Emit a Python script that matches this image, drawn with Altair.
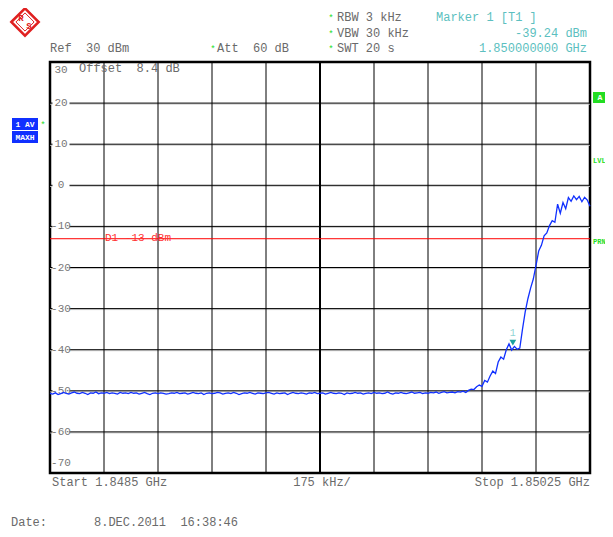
import altair as alt
import pandas as pd

# ---------------- data ----------------
START_GHZ = 1.8485
STOP_GHZ = 1.85025
DIV_GHZ = 0.000175
level_ticks = [30, 20, 10, 0, -10, -20, -30, -40, -50, -60, -70]
limit_dbm = -13
marker_freq = 1.85
marker_level = -39.24

trace_dbm = [
    -50.6, -50.8, -50.5, -50.9, -50.7, -50.4, -50.6, -50.8, -50.5, -50.3,
    -50.6, -50.7, -50.4, -50.6, -50.9, -50.5, -50.6, -50.3, -50.7, -50.5,
    -50.6, -50.4, -50.7, -50.5, -50.6, -50.8, -50.4, -50.6, -50.5, -50.7,
    -50.4, -50.6, -50.5, -50.8, -50.6, -50.4, -50.7, -50.9, -50.6, -50.5,
    -50.7, -50.5, -50.6, -50.8, -50.7, -50.5, -50.6, -50.4, -50.7, -50.6,
    -50.5, -50.8, -50.6, -50.4, -50.6, -50.7, -50.5, -50.9, -50.6, -50.5,
    -50.7, -50.6, -50.4, -50.5, -50.8, -50.6, -50.5, -50.7, -50.4, -50.6,
    -50.9, -50.7, -50.5, -50.6, -50.4, -50.6, -50.8, -50.5, -50.6, -50.7,
    -50.5, -50.4, -50.6, -50.8, -50.5, -50.7, -50.6, -50.5, -50.9, -50.6,
    -50.4, -50.6, -50.7, -50.5, -50.6, -50.8, -50.5, -50.6, -50.4, -50.7,
    -50.6, -50.5, -50.8, -50.6, -50.4, -50.6, -50.7, -50.5, -50.6, -50.9,
    -50.5, -50.7, -50.6, -50.4, -50.6, -50.5, -50.8, -50.6, -50.5, -50.7,
    -50.4, -50.6, -50.5, -50.7, -50.6, -50.3, -50.6, -50.8, -50.5, -50.6,
    -50.4, -50.6, -50.7, -50.5, -50.3, -50.6, -50.5, -50.4, -50.7, -50.5,
    -50.6, -50.4, -50.5, -50.3, -50.6, -50.4, -50.2, -50.5, -50.4, -50.3,
    -50.5, -50.2,
    -50.3, -50.1, -50.4, -49.9, -49.6, -49.7, -49.0, -48.6, -48.9, -47.5,
    -47.9, -46.4, -45.2, -45.8, -43.0, -41.8, -42.3, -40.0, -38.6, -40.1,
    -39.2, -39.9, -39.6, -35.0, -30.8, -27.6, -25.0, -22.8, -19.5, -16.0,
    -14.6, -12.3, -11.6, -9.8, -8.6, -9.0, -4.6, -6.8, -4.2, -5.7,
    -3.0, -3.9, -2.6, -3.5, -2.7, -4.0, -2.9, -3.6, -5.1,
]

n = len(trace_dbm)
trace = pd.DataFrame({
    "freq": [START_GHZ + i * (STOP_GHZ - START_GHZ) / (n - 1) for i in range(n)],
    "level": trace_dbm,
})
vgrid = pd.DataFrame({"freq": [START_GHZ + k * DIV_GHZ for k in range(1, 10) if k != 5]})
vcenter = pd.DataFrame({"freq": [START_GHZ + 5 * DIV_GHZ]})
hgrid = pd.DataFrame({"db": level_ticks[1:-1]})
mid_labels = pd.DataFrame({"db": level_ticks[1:-1], "t": [str(v) for v in level_ticks[1:-1]]})
top_label = pd.DataFrame({"db": [level_ticks[0]], "t": [str(level_ticks[0])]})
bot_label = pd.DataFrame({"db": [level_ticks[-1]], "t": [str(level_ticks[-1])]})
limit = pd.DataFrame({"db": [limit_dbm], "t": ["D1 %d dBm" % limit_dbm]})
marker = pd.DataFrame({"freq": [marker_freq], "level": [marker_level]})

# ---------------- styling ----------------
MONO = "Liberation Mono"
GRAY = "#6a6a6a"
TEAL = "#5cbfc0"
GREEN = "#22dd22"
BLUE = "#1030ff"

xs = alt.Scale(domain=[START_GHZ, STOP_GHZ], nice=False, zero=False)
ys = alt.Scale(domain=[-70, 30], nice=False, zero=False)
X = alt.X("freq:Q", scale=xs, axis=None)
one = pd.DataFrame({"_": [0]})


def txt(s, x, y, color=GRAY, align="left", size=12, weight="normal", baseline="middle"):
    return alt.Chart(one).mark_text(
        text=s, font=MONO, fontSize=size, color=color, align=align,
        baseline=baseline, fontWeight=weight,
    ).encode(x=alt.value(x), y=alt.value(y))


def box(x1, x2, y1, y2, color):
    return alt.Chart(one).mark_rect(color=color).encode(
        x=alt.value(x1), x2=alt.value(x2), y=alt.value(y1), y2=alt.value(y2))


layers = []
layers.append(alt.Chart(hgrid).mark_rule(color="#c8c8c8", strokeWidth=1, yOffset=1).encode(
    y=alt.Y("db:Q", scale=ys, axis=None)))
layers.append(alt.Chart(vgrid).mark_rule(color="black", strokeWidth=1).encode(x=X))
layers.append(alt.Chart(vcenter).mark_rule(color="black", strokeWidth=2).encode(x=X))
layers.append(alt.Chart(hgrid).mark_rule(color="black", strokeWidth=1).encode(
    y=alt.Y("db:Q", scale=ys, axis=None)))
layers.append(alt.Chart(hgrid).mark_tick(orient="horizontal", color="white", size=17,
                                         thickness=9, opacity=1).encode(
    x=alt.value(11), y=alt.Y("db:Q", scale=ys, axis=None)))
layers.append(alt.Chart(mid_labels).mark_text(font=MONO, fontSize=11, color="#777",
                                              align="center", baseline="middle").encode(
    x=alt.value(11), y=alt.Y("db:Q", scale=ys, axis=None), text="t:N"))
layers.append(alt.Chart(top_label).mark_text(font=MONO, fontSize=11, color="#777",
                                             align="center", baseline="top", dy=2).encode(
    x=alt.value(11), y=alt.Y("db:Q", scale=ys, axis=None), text="t:N"))
layers.append(alt.Chart(bot_label).mark_text(font=MONO, fontSize=11, color="#777",
                                             align="center", baseline="bottom", dy=-5).encode(
    x=alt.value(11), y=alt.Y("db:Q", scale=ys, axis=None), text="t:N"))
layers.append(alt.Chart(limit).mark_rule(color="#ff0000", strokeWidth=1).encode(
    y=alt.Y("db:Q", scale=ys, axis=None)))
layers.append(alt.Chart(limit).mark_text(font=MONO, fontSize=11, color="#ff3030",
                                         align="left", baseline="middle", dy=-1).encode(
    x=alt.value(55), y=alt.Y("db:Q", scale=ys, axis=None), text="t:N"))
layers.append(alt.Chart(trace).mark_line(color=BLUE, strokeWidth=1.3).encode(
    x=X, y=alt.Y("level:Q", scale=ys, axis=None)))
layers.append(alt.Chart(marker).mark_point(shape="triangle-down", filled=True, color="#1aa0a0",
                                           size=45, opacity=1, yOffset=-4).encode(
    x=X, y=alt.Y("level:Q", scale=ys, axis=None)))
layers.append(alt.Chart(marker).mark_text(text="1", font=MONO, fontSize=10, color="#8fd4d4",
                                          dy=-14).encode(
    x=X, y=alt.Y("level:Q", scale=ys, axis=None)))

# annotations (pixel positions relative to the plot origin)
layers += [
    txt("Offset\u00a0\u00a08.4 dB", 29, 6),
    txt("Ref\u00a0\u00a030 dBm", 0, -14),
    txt("*", 163, -13, color=GREEN, size=9, align="center"),
    txt("Att\u00a0\u00a060 dB", 167, -14),
    txt("*", 281, -44, color=GREEN, size=9, align="center"),
    txt("RBW 3 kHz", 287, -45),
    txt("*", 281, -28, color=GREEN, size=9, align="center"),
    txt("VBW 30 kHz", 287, -29),
    txt("*", 281, -13, color=GREEN, size=9, align="center"),
    txt("SWT 20 s", 287, -14),
    txt("Marker 1 [T1 ]", 386, -45, color=TEAL),
    txt("-39.24 dBm", 537, -29, color=TEAL, align="right"),
    txt("1.850000000 GHz", 537, -14, color=TEAL, align="right"),
    txt("Start 1.8485 GHz", 2, 420),
    txt("175 kHz/", 272, 420, align="center"),
    txt("Stop 1.85025 GHz", 540, 420, align="right"),
    txt("Date:", -39, 467, baseline="bottom"),
    txt("8.DEC.2011\u00a0\u00a016:38:46", 44, 467, baseline="bottom"),
    box(-38, -12, 56, 68, BLUE),
    box(-38, -12, 69, 81, BLUE),
    txt("1 AV", -25, 62.5, color="white", size=8, weight="bold", align="center"),
    txt("MAXH", -25, 75.5, color="white", size=8, weight="bold", align="center"),
    txt("*", -7, 63, color=GREEN, size=9, align="center"),
    box(543, 556, 30, 41, GREEN),
    txt("A", 550, 35.5, color="white", size=8, weight="bold", align="center"),
    txt("LVL", 543, 99, color=GREEN, size=7, weight="bold"),
    txt("PRN", 543, 180, color=GREEN, size=7, weight="bold"),
]

# R&S logo
logo = alt.Chart(one).mark_point(shape="diamond", filled=False, color="#e02020",
                                 strokeWidth=2.5, size=750, opacity=1).encode(
    x=alt.value(-25), y=alt.value(-40))
logo_in = alt.Chart(one).mark_point(shape="diamond", filled=False, color="#e02020",
                                    strokeWidth=1, size=330, opacity=1).encode(
    x=alt.value(-25), y=alt.value(-40))
layers += [logo, logo_in,
           txt("R", -29, -44, color="#e02020", size=9, weight="bold", align="center"),
           txt("S", -21, -36, color="#e02020", size=9, weight="bold", align="center")]

chart = alt.layer(*layers).properties(
    width=540, height=411,
    autosize=alt.AutoSizeParams(type="none"),
    padding={"left": 42, "top": 54, "right": 15, "bottom": 56},
).configure_view(stroke="black", strokeWidth=2.5)

chart.save("out.html", embed_options={"renderer": "svg", "actions": False})
